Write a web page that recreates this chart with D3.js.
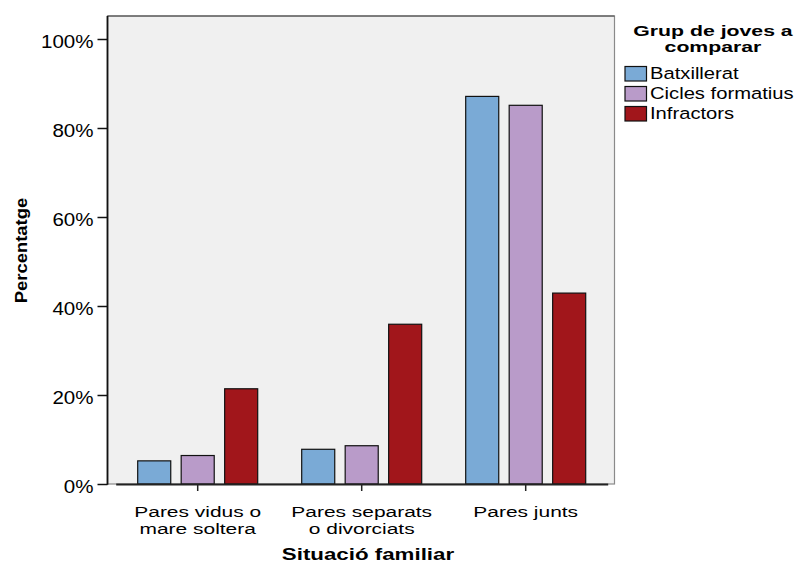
<!DOCTYPE html>
<html><head><meta charset="utf-8">
<script src="https://cdn.jsdelivr.net/npm/d3@7"></script>
<style>
body{margin:0;background:#fff;}
text{font-family:"Liberation Sans",Arial,sans-serif;fill:#000;}
</style></head>
<body><svg id="c" width="807" height="562"></svg>
<script>
const categories = ["Pares vidus o\nmare soltera", "Pares separats\no divorciats", "Pares junts"];
const seriesNames = ["Batxillerat", "Cicles formatius", "Infractors"];
const batxillerat = [5.2, 7.8, 87.1];
const ciclesFormatius = [6.4, 8.6, 85.1];
const infractors = [21.4, 35.9, 42.9];
const yTicks = [0, 20, 40, 60, 80, 100];
const colors = ["#7aaad6", "#b99bc9", "#a1161b"];
const legendTitle = ["Grup de joves a", "comparar"];
const xTitle = "Situació familiar";
const yTitle = "Percentatge";

const seriesValues = [batxillerat, ciclesFormatius, infractors];
const svg = d3.select("#c");

function stretch(sel, f){
  sel.each(function(){
    const w = this.getComputedTextLength();
    d3.select(this).attr("textLength", w*f).attr("lengthAdjust","spacingAndGlyphs");
  });
}

const plot = {l:107.5, r:614.5, t:16, b:484};
const x0 = d3.scaleBand().domain(categories).range([115.7, 607.7]).padding(0);
const x1 = d3.scaleBand().domain(seriesNames).range([22, 142]).paddingInner(0.24).paddingOuter(0);
const y = d3.scaleLinear().domain([0, 100]).range([484, 39]);

// background frame
svg.append("rect").attr("x", plot.l).attr("y", plot.t).attr("width", plot.r-plot.l).attr("height", plot.b-plot.t)
  .attr("fill", "#f0f0f0").attr("stroke", "#8a8a8a").attr("stroke-width", 1.2);
svg.append("line").attr("x1", plot.l).attr("x2", plot.r).attr("y1", plot.t).attr("y2", plot.t).attr("stroke","#444").attr("stroke-width",1.2);

// bars
const data = [];
categories.forEach((c,i)=>seriesNames.forEach((s,j)=>data.push({c, s, v: seriesValues[j][i], j})));
svg.append("g").selectAll("rect").data(data).join("rect")
  .attr("x", d => x0(d.c) + x1(d.s))
  .attr("width", x1.bandwidth())
  .attr("y", d => y(d.v))
  .attr("height", d => y(0) - y(d.v))
  .attr("fill", d => colors[d.j])
  .attr("stroke", "#111").attr("stroke-width", 1.2);

// y axis
const ya = svg.append("g").attr("transform", `translate(${plot.l},0)`)
  .call(d3.axisLeft(y).tickValues(yTicks).tickFormat(d => d + "%").tickSize(10).tickSizeOuter(0));
ya.select(".domain").remove();
ya.selectAll(".tick line").attr("stroke", "#111").attr("stroke-width", 1.5);
ya.selectAll(".tick text").attr("x", -14).attr("dy", "0.45em")
  .style("font-size", "18.5px").style("font-family", '"Liberation Sans",Arial,sans-serif').attr("fill","#111");
stretch(ya.selectAll(".tick text"), 1.11);
svg.append("line").attr("x1", plot.l).attr("x2", plot.l).attr("y1", plot.t).attr("y2", plot.b+0.7)
  .attr("stroke", "#111").attr("stroke-width", 1.8);

// x axis
const xa = svg.append("g").attr("transform", `translate(0,${plot.b})`)
  .call(d3.axisBottom(x0).tickSize(7).tickSizeOuter(0).tickFormat(""));
xa.select(".domain").attr("stroke", "#222").attr("stroke-width", 2);
xa.selectAll(".tick line").attr("stroke", "#222").attr("stroke-width", 1.5);
xa.selectAll(".tick").each(function(d){
  const g = d3.select(this);
  d.split("\n").forEach((ln, k) => {
    const t = g.append("text").attr("text-anchor", "middle").attr("x", 0).attr("y", 32.5 + k*17.2)
      .style("font-size", "15.4px").attr("fill", "#111").text(ln);
    stretch(t, 1.36);
  });
});

// axis titles
const xt = svg.append("text").attr("x", 368).attr("y", 560).attr("text-anchor", "middle")
  .style("font-size", "16.3px").style("font-weight", "bold").text(xTitle);
stretch(xt, 1.37);
const yt = svg.append("text").attr("transform", "translate(26.5,250.5) rotate(-90)").attr("text-anchor", "middle")
  .style("font-size", "16px").style("font-weight", "bold").text(yTitle);
stretch(yt, 1.15);

// legend
const lg = svg.append("g");
legendTitle.forEach((t, k) => {
  const tt = lg.append("text").attr("x", 713).attr("y", 36 + k*15.5).attr("text-anchor", "middle")
    .style("font-size", "15.4px").style("font-weight", "bold").text(t);
  stretch(tt, 1.38);
});
seriesNames.forEach((s, k) => {
  const g = lg.append("g").attr("transform", `translate(625,${66.5 + k*20})`);
  g.append("rect").attr("width", 21.5).attr("height", 14.5).attr("fill", colors[k]).attr("stroke", "#111").attr("stroke-width", 1.2);
  const tx = g.append("text").attr("x", 25).attr("y", 12.3).style("font-size", "16.3px").text(s);
  stretch(tx, 1.24);
});
</script></body></html>
